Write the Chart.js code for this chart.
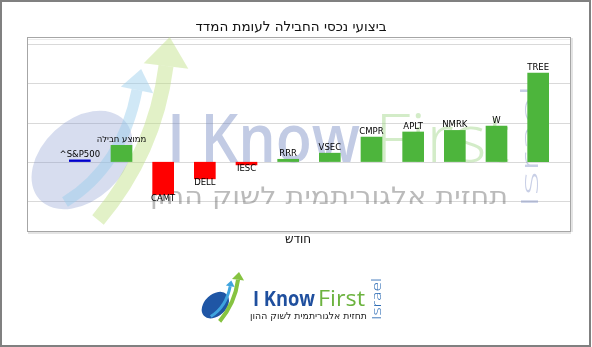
<!DOCTYPE html>
<html lang="he">
<head>
<meta charset="UTF-8">
<title>ביצועי נכסי החבילה לעומת המדד</title>
<script src="https://cdn.jsdelivr.net/npm/chart.js"></script>
<style>
  body { margin: 0; background: #fff; }
  canvas { display: block; }
</style>
</head>
<body>
<canvas id="perfChart" width="592" height="347"></canvas>
<script>
// data (returns, %)
const tickers = ['^S&P500', 'ממוצע חבילה', 'CAMT', 'DELL', 'IESC', 'RRR', 'VSEC', 'CMPR', 'APLT', 'NMRK', 'W', 'TREE'];
const returns = [0.6, 4.3, -8.4, -4.4, -0.85, 0.75, 2.3, 6.4, 7.7, 8.1, 9.2, 22.7];
const gridValues = [30, 20, 10, 0, -10];
const chartTitle = 'ביצועי נכסי החבילה לעומת המדד';
const xTitle = 'חודש';
const tagline = 'תחזית אלגוריתמית לשוק ההון';

const BOX = { left: 27, right: 570, top: 37, bottom: 231 };

const isHeb = s => /[\u0590-\u05FF]/.test(s);

function fitText(ctx, text, x, y, width) {
    ctx.save();
    ctx.direction = isHeb(text) ? 'rtl' : 'ltr';
    ctx.textAlign = 'left';
    const w = ctx.measureText(text).width;
    ctx.translate(x, y);
    ctx.scale(width / w, 1);
    ctx.fillText(text, 0, 0);
    ctx.restore();
}

function arrow(ctx, p0, c, p1, lw, col) {
    ctx.strokeStyle = col;
    ctx.fillStyle = col;
    ctx.lineWidth = lw;
    ctx.beginPath();
    ctx.moveTo(p0[0], p0[1]);
    ctx.quadraticCurveTo(c[0], c[1], p1[0], p1[1]);
    ctx.stroke();
    const a = Math.atan2(p1[1] - c[1], p1[0] - c[0]);
    const h = lw * 1.5;
    ctx.beginPath();
    ctx.moveTo(p1[0] + Math.cos(a) * h * 1.3, p1[1] + Math.sin(a) * h * 1.3);
    ctx.lineTo(p1[0] + Math.cos(a + Math.PI / 2) * h, p1[1] + Math.sin(a + Math.PI / 2) * h);
    ctx.lineTo(p1[0] + Math.cos(a - Math.PI / 2) * h, p1[1] + Math.sin(a - Math.PI / 2) * h);
    ctx.closePath();
    ctx.fill();
}

function drawSwoosh(ctx, ox, oy, s, cols) {
    ctx.save();
    ctx.translate(ox, oy);
    ctx.scale(s, s);
    ctx.fillStyle = cols[0];
    ctx.beginPath();
    ctx.ellipse(42, 108, 58, 40, -0.75, 0, Math.PI * 2);
    ctx.fill();
    arrow(ctx, [25, 150], [82, 115], [97, 38], 11, cols[1]);
    arrow(ctx, [58, 168], [115, 100], [126, 14], 15, cols[2]);
    ctx.restore();
}

const decor = {
    id: 'decor',
    beforeDraw(chart) {
        const ctx = chart.ctx;
        const y = chart.scales.y;
        ctx.save();
        ctx.fillStyle = '#fff';
        ctx.fillRect(0, 0, chart.width, chart.height);
        // outer frame
        ctx.fillStyle = '#808080';
        ctx.fillRect(0, 0, 591, 2);
        ctx.fillRect(0, 0, 2, 347);
        ctx.fillRect(589, 0, 2, 347);
        ctx.fillRect(0, 345, 591, 2);
        // plot box shadow + border
        ctx.fillStyle = '#e4e4e4';
        ctx.fillRect(BOX.left + 1, BOX.bottom + 1, BOX.right - BOX.left, 2);
        ctx.fillRect(BOX.right + 1, BOX.top + 1, 2, BOX.bottom - BOX.top);
        ctx.strokeStyle = '#a6a6a6';
        ctx.lineWidth = 1;
        ctx.strokeRect(BOX.left + 0.5, BOX.top + 0.5, BOX.right - BOX.left, BOX.bottom - BOX.top);
        ctx.strokeStyle = '#ececec';
        ctx.beginPath();
        ctx.moveTo(BOX.left + 1, BOX.top + 2.5);
        ctx.lineTo(BOX.right, BOX.top + 2.5);
        ctx.stroke();
        // grid lines across the whole box
        ctx.strokeStyle = '#d9d9d9';
        gridValues.forEach(v => {
            const py = Math.round(y.getPixelForValue(v)) + 0.5;
            ctx.beginPath();
            ctx.moveTo(BOX.left + 1, py);
            ctx.lineTo(BOX.right, py);
            ctx.stroke();
        });
        ctx.restore();
    },
    beforeDatasetsDraw(chart) {
        // faded logo watermark behind the bars
        const ctx = chart.ctx;
        ctx.save();
        drawSwoosh(ctx, 40, 52, 1, ['rgba(130,150,205,0.32)', 'rgba(150,205,235,0.45)', 'rgba(190,225,130,0.45)']);
        ctx.textBaseline = 'alphabetic';
        ctx.fillStyle = 'rgba(110,130,190,0.42)';
        ctx.font = '600 67px "Open Sans"';
        fitText(ctx, 'I Know', 167, 162, 193);
        ctx.fillStyle = 'rgba(150,210,125,0.42)';
        ctx.font = '300 67px "Open Sans"';
        fitText(ctx, 'First', 375, 162, 135);
        ctx.fillStyle = 'rgba(120,120,120,0.50)';
        ctx.font = '24px "DejaVu Sans"';
        fitText(ctx, tagline, 150, 204, 358);
        ctx.fillStyle = 'rgba(110,130,190,0.38)';
        ctx.font = '300 24px "Open Sans"';
        ctx.save();
        ctx.translate(538, 208);
        ctx.rotate(-Math.PI / 2);
        fitText(ctx, 'Israel', 0, 0, 123);
        ctx.restore();
        ctx.restore();
    },
    afterDatasetsDraw(chart) {
        const ctx = chart.ctx;
        const meta = chart.getDatasetMeta(0);
        ctx.save();
        ctx.font = '8.5px "DejaVu Sans"';
        ctx.fillStyle = '#000';
        ctx.textAlign = 'center';
        ctx.textBaseline = 'middle';
        meta.data.forEach((bar, i) => {
            const v = returns[i];
            const ty = v >= 0 ? bar.y - 5 : bar.y + 3.5;
            ctx.direction = isHeb(tickers[i]) ? 'rtl' : 'ltr';
            ctx.fillText(tickers[i], bar.x, ty);
        });
        ctx.restore();
    },
    afterDraw(chart) {
        const ctx = chart.ctx;
        ctx.save();
        ctx.fillStyle = '#111';
        ctx.textAlign = 'center';
        ctx.textBaseline = 'middle';
        ctx.direction = 'rtl';
        ctx.font = '13.5px "DejaVu Sans"';
        ctx.fillText(chartTitle, 291, 27);
        ctx.font = '12px "DejaVu Sans"';
        ctx.fillText(xTitle, 298, 240);

        // bottom logo
        drawSwoosh(ctx, 204, 276, 0.27, ['#1f56a5', '#3fa4de', '#86c341']);
        ctx.textBaseline = 'alphabetic';
        ctx.fillStyle = '#1f4f9e';
        ctx.font = 'bold 22px "Open Sans"';
        fitText(ctx, 'I Know', 253, 306, 62);
        ctx.fillStyle = '#6cb33f';
        ctx.font = '22px "Open Sans"';
        fitText(ctx, 'First', 318, 306, 47);
        ctx.fillStyle = '#222';
        ctx.font = '9.5px "DejaVu Sans"';
        fitText(ctx, tagline, 250, 319, 117);
        ctx.fillStyle = '#2f6db5';
        ctx.font = '300 12px "Open Sans"';
        ctx.translate(381, 320);
        ctx.rotate(-Math.PI / 2);
        fitText(ctx, 'Israel', 0, 0, 42);
        ctx.restore();
    }
};

const ctx = document.getElementById('perfChart').getContext('2d');
new Chart(ctx, {
    type: 'bar',
    data: {
        labels: tickers,
        datasets: [{
            data: returns,
            backgroundColor: returns.map((v, i) => i === 0 ? '#0000cc' : (v < 0 ? '#ff0000' : '#4db53c')),
            borderWidth: 0,
            categoryPercentage: 1,
            barPercentage: 0.52
        }]
    },
    options: {
        responsive: false,
        animation: false,
        devicePixelRatio: 1,
        layout: { padding: { left: 59, right: 33, top: 37, bottom: 116 } },
        scales: {
            x: { display: false },
            y: { display: false, min: -17.6, max: 31.8 }
        },
        plugins: {
            legend: { display: false },
            tooltip: { enabled: false },
            title: { display: false }
        }
    },
    plugins: [decor]
});
</script>
</body>
</html>
